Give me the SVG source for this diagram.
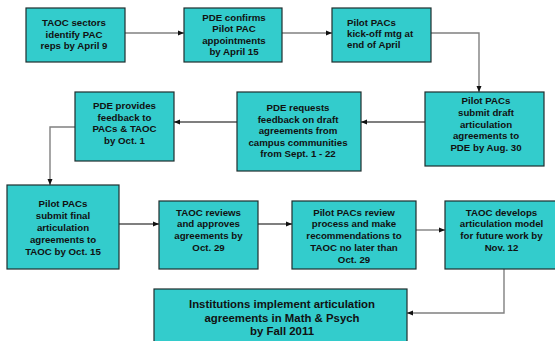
<svg xmlns="http://www.w3.org/2000/svg" width="555" height="341" viewBox="0 0 555 341">
<style>
.box{fill:#33CCCC;stroke:#1e2e2e;stroke-width:1.2}
.t{font-family:"Liberation Sans",Arial,sans-serif;font-weight:bold;font-size:9.7px;fill:#111;text-anchor:middle}
.tl{text-anchor:start}
.big{font-size:11.4px}
.c{fill:none;stroke:#808080;stroke-width:1.4}
</style>
<defs>
<marker id="ah" markerUnits="userSpaceOnUse" markerWidth="6" markerHeight="6" viewBox="0 0 6 6" refX="6" refY="3" orient="auto">
<path d="M0,0.5 L6,3 L0,5.5 Z" fill="#111"/>
</marker>
</defs>
<rect width="555" height="341" fill="#fff"/>
<g id="connectors">
<path class="c" d="M125,33 H184" marker-end="url(#ah)"/>
<path class="c" d="M282,33 H332" marker-end="url(#ah)"/>
<path class="c" d="M431,33 H479 V92" marker-end="url(#ah)"/>
<path class="c" d="M425,122 H361" marker-end="url(#ah)" style="stroke:#555"/>
<path class="c" d="M237,122 H174" marker-end="url(#ah)" style="stroke:#555"/>
<path class="c" d="M75,127 H50 V185" marker-end="url(#ah)"/>
<path class="c" d="M119,224 H159" marker-end="url(#ah)" style="stroke:#555"/>
<path class="c" d="M258,224 H292" marker-end="url(#ah)" style="stroke:#555"/>
<path class="c" d="M416,230 H445" marker-end="url(#ah)"/>
<path class="c" d="M504,269 V313 H407" marker-end="url(#ah)"/>
</g>
<g id="n1">
<rect class="box" x="26" y="8" width="99" height="54"/>
<text class="t" x="74" y="26">TAOC sectors</text>
<text class="t" x="74" y="37.5">identify PAC</text>
<text class="t" x="74" y="48.5">reps by April 9</text>
</g>
<g id="n2">
<rect class="box" x="184" y="8" width="98" height="54"/>
<text class="t" x="234" y="20.5">PDE confirms</text>
<text class="t" x="234" y="32">Pilot PAC</text>
<text class="t" x="234" y="44">appointments</text>
<text class="t" x="234" y="55">by April 15</text>
</g>
<g id="n3">
<rect class="box" x="332" y="8" width="99" height="54"/>
<text class="t tl" x="347" y="26">Pilot PACs</text>
<text class="t tl" x="347" y="37">kick-off mtg at</text>
<text class="t tl" x="347" y="48">end of April</text>
</g>
<g id="n4">
<rect class="box" x="425" y="92" width="119" height="74"/>
<text class="t" x="486" y="104">Pilot PACs</text>
<text class="t" x="486" y="116">submit draft</text>
<text class="t" x="486" y="127.5">articulation</text>
<text class="t" x="486" y="139">agreements to</text>
<text class="t" x="486" y="150.5">PDE by Aug. 30</text>
</g>
<g id="n5">
<rect class="box" x="237" y="92" width="124" height="79"/>
<text class="t" x="298" y="111">PDE requests</text>
<text class="t" x="298" y="122.5">feedback on draft</text>
<text class="t" x="298" y="134">agreements from</text>
<text class="t" x="298" y="145.5">campus communities</text>
<text class="t" x="298" y="157">from Sept. 1 - 22</text>
</g>
<g id="n6">
<rect class="box" x="75" y="92" width="99" height="69"/>
<text class="t" x="124.5" y="109">PDE provides</text>
<text class="t" x="124.5" y="120.5">feedback to</text>
<text class="t" x="124.5" y="132">PACs &amp; TAOC</text>
<text class="t" x="124.5" y="143.5">by Oct. 1</text>
</g>
<g id="n7">
<rect class="box" x="7" y="185" width="112" height="84"/>
<text class="t" x="63" y="207">Pilot PACs</text>
<text class="t" x="63" y="219">submit final</text>
<text class="t" x="63" y="231">articulation</text>
<text class="t" x="63" y="243">agreements to</text>
<text class="t" x="63" y="254.5">TAOC by Oct. 15</text>
</g>
<g id="n8">
<rect class="box" x="159" y="201" width="99" height="68"/>
<text class="t" x="208.5" y="215.5">TAOC reviews</text>
<text class="t" x="208.5" y="227">and approves</text>
<text class="t" x="208.5" y="239">agreements by</text>
<text class="t" x="208.5" y="250.5">Oct. 29</text>
</g>
<g id="n9">
<rect class="box" x="292" y="201" width="124" height="68"/>
<text class="t" x="354" y="215.5">Pilot PACs review</text>
<text class="t" x="354" y="227">process and make</text>
<text class="t" x="354" y="239">recommendations to</text>
<text class="t" x="354" y="251">TAOC no later than</text>
<text class="t" x="354" y="262.5">Oct. 29</text>
</g>
<g id="n10">
<rect class="box" x="445" y="201" width="112" height="68"/>
<text class="t" x="501.5" y="215.5">TAOC develops</text>
<text class="t" x="501.5" y="227">articulation model</text>
<text class="t" x="501.5" y="239">for future work by</text>
<text class="t" x="501.5" y="250.5">Nov. 12</text>
</g>
<g id="n11">
<rect class="box" x="154" y="289" width="253" height="56"/>
<text class="t big" x="282" y="308">Institutions implement articulation</text>
<text class="t big" x="282" y="321.5">agreements in Math &amp; Psych</text>
<text class="t big" x="282" y="335">by Fall 2011</text>
</g>
</svg>
